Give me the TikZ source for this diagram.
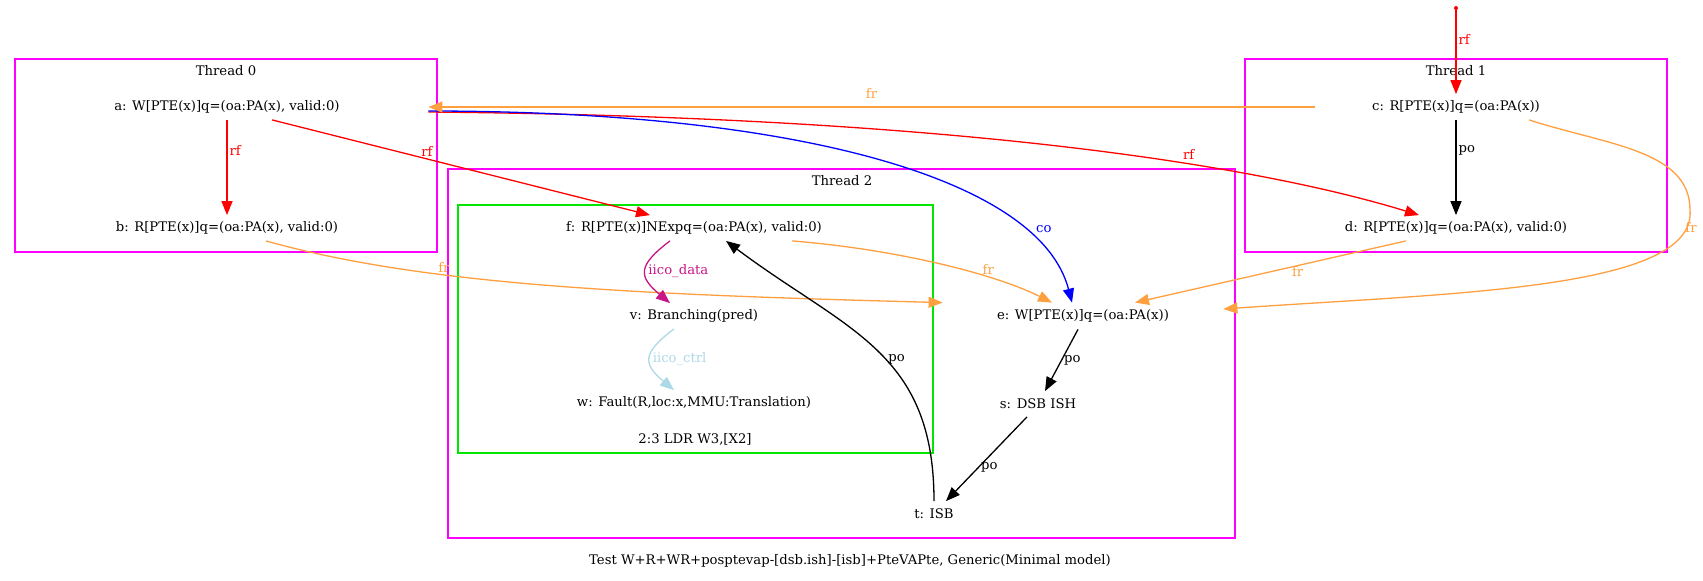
\documentclass[tikz,border=0pt]{standalone}
\usepackage{fontspec}
\setmainfont{DejaVu Serif}
\usetikzlibrary{positioning,arrows.meta}

\definecolor{frcol}{RGB}{255,160,64}
\definecolor{iicodata}{RGB}{199,21,133}
\definecolor{iicoctrl}{RGB}{173,216,230}
\definecolor{thrcol}{RGB}{255,0,255}
\definecolor{instrcol}{RGB}{0,230,0}

\tikzset{
  ev/.style={inner sep=0pt, minimum height=12.5pt},
  lab/.style={inner sep=1pt},
  rel/.style={line width=0.65pt, -{Triangle[length=7pt,width=5.5pt]}},
  thr/.style={draw=thrcol, line width=0.8pt},
  instr/.style={draw=instrcol, line width=0.8pt}
}

\begin{document}
\begin{tikzpicture}[x=0.5pt, y=-0.5pt, font=\fontsize{6.6}{8}\selectfont]
\useasboundingbox (0,0) rectangle (1703,580);

\def\ya{107}
\def\yb{228}
\def\yc{316}
\def\yd{404}

% threads
\draw[thr] (15,59) rectangle (437,252);
\node(thr0) at (226,71) {Thread 0};
\draw[thr] (1245,59) rectangle (1667,252);
\node(thr1) at (1456,71) {Thread 1};
\draw[thr] (448,169) rectangle (1235,538);
\node(thr2) at (842,181) {Thread 2};
\draw[instr] (458,205) rectangle (933,453);
\node(ldr) at (695,439) {2:3 LDR W3,[X2]};

% events
\node[ev, minimum width=201pt] (a) at (227, \ya) {a: W[PTE(x)]q=(oa:PA(x), valid:0)};
\node[ev, minimum width=120pt] (b) at (227, \yb) {b: R[PTE(x)]q=(oa:PA(x), valid:0)};
\node[ev, minimum width=141pt] (c) at (1456, \ya) {c: R[PTE(x)]q=(oa:PA(x))};
\node[ev, minimum width=125pt] (d) at (1456, \yb) {d: R[PTE(x)]q=(oa:PA(x), valid:0)};
\node[ev, minimum width=130pt] (f) at (694, \yb) {f: R[PTE(x)]NExpq=(oa:PA(x), valid:0)};
\node[ev, minimum width=140pt, minimum height=13pt] (e) at (1083, \yc) {e: W[PTE(x)]q=(oa:PA(x))};
\node[ev] (v) at (694, \yc) {v: Branching(pred)};
\node[ev] (w) at (694, 403) {w: Fault(R,loc:x,MMU:Translation)};
\node[ev] (s) at (1038, \yd) {s: DSB ISH};
\node[ev] (t) at (934, 514) {t: ISB};

\coordinate (init) at (1456, 8);
\fill[red] (init) circle (1pt);

\node(cap) at (850, 561) {Test W+R+WR+posptevap-[dsb.ish]-[isb]+PteVAPte, Generic(Minimal model)};

% rf
\draw[rel, red] (init) -- node[lab, pos=0.36, right] {rf} (c.north);
\draw[rel, red] (a) -- node[lab, pos=0.32, right] {rf} (b);
\draw[rel, red] ([xshift=22.5pt]a.south) -- node[lab, pos=0.41, above] {rf} ([xshift=-22pt]f.north);
\draw[rel, red] ([yshift=-2.5pt]a.east) .. controls +(550,5) and +(-150,-46) .. node[lab, pos=0.63, above=1pt] {rf} ([xshift=-18.5pt]d.north);

% co
\draw[rel, blue] ([yshift=-2pt]a.east) .. controls +(372,0) and +(-32,-123) .. node[lab, pos=0.78, right=6pt] {co} ([xshift=-5.5pt]e.north);

% fr
\draw[rel, frcol] (c) -- node[lab, midway, above=3pt] {fr} (a);
\draw[rel, frcol] ([xshift=19.5pt]b.south) .. controls +(160,45) and +(-300,-8) .. node[lab, pos=0.33, above] {fr} (e.north west);
\draw[rel, frcol] ([xshift=49pt]f.south) .. controls +(100,8) and +(-60,-30) .. node[lab, pos=0.7, above] {fr} ([xshift=-15.5pt]e.north);
\draw[rel, frcol] ([xshift=-25pt]d.south) -- node[lab, pos=0.4, yshift=-3pt] {fr} ([xshift=26pt]e.north);
\draw[rel, frcol] ([xshift=36.5pt]c.south) to[out=-18, in=90, out distance=40pt, in distance=30pt] ++(161,90)
  to[out=-85, in=4, out distance=40pt, in distance=115pt] node[lab, pos=0.08, xshift=2pt] {fr} ([yshift=3.5pt]e.east);

% iico
\draw[rel, iicodata] ([xshift=-12pt]f.south) to[out=-143, in=140, looseness=1.7] node[lab, right] {iico\_data} ([xshift=-12pt]v.north);
\draw[rel, iicoctrl] ([xshift=-10pt]v.south) to[out=-143, in=140, looseness=1.7] node[lab, right] {iico\_ctrl} ([xshift=-10pt]w.north);

% po
\draw[rel] (c) -- node[lab, pos=0.32, right] {po} (d);
\draw[rel] ([xshift=-2.5pt]e.south) -- node[lab, right] {po} ([xshift=3.5pt]s.north);
\draw[rel] ([xshift=-5.5pt]s.south) -- node[lab, pos=0.6, right] {po} ([xshift=6pt]t.north);
\draw[rel] (t.north) .. controls +(0,-150) and +(120,90) .. node[lab, pos=0.45, right] {po} ([xshift=16pt]f.south);

\end{tikzpicture}
\end{document}
